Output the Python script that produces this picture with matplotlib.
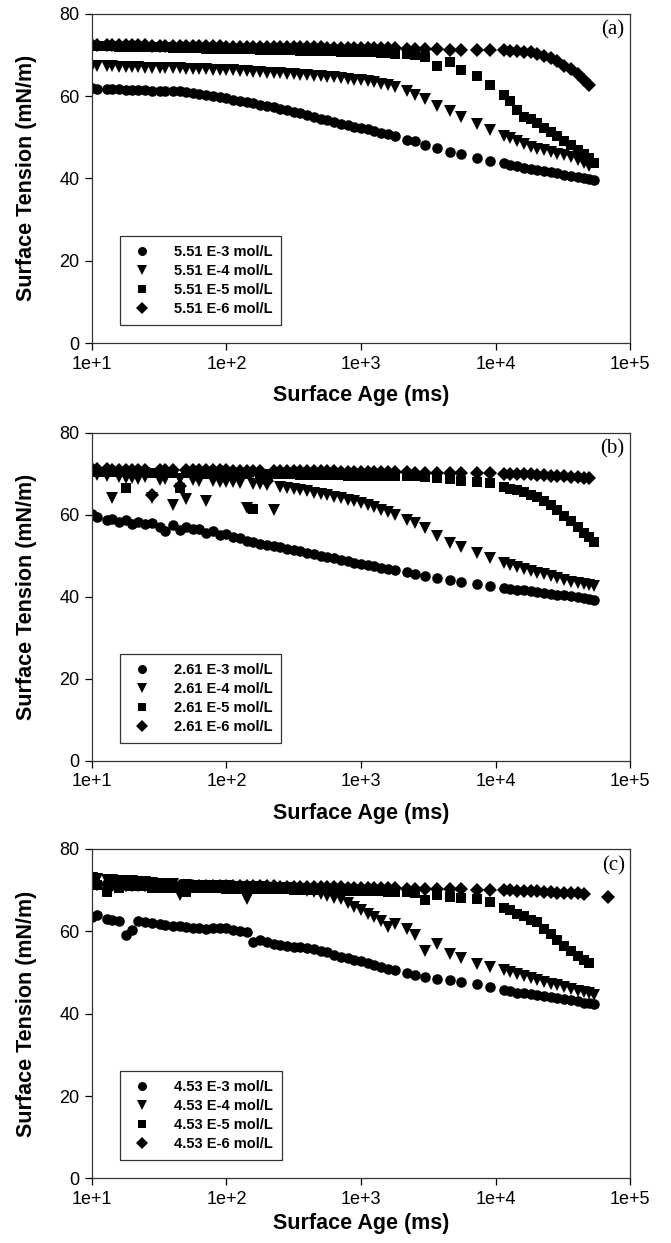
import matplotlib
matplotlib.use("Agg")
import matplotlib.pyplot as plt
import numpy as np

nan = np.nan

# Surface age (ms) shared by every run
age_ms = [
    10, 11, 13, 14, 16, 18, 20, 22, 25, 28,
    32, 35, 40, 45, 50, 56, 63, 71, 79, 89,
    100, 112, 126, 141, 158, 178, 200, 224, 251, 282,
    316, 355, 398, 447, 501, 562, 631, 708, 794, 891,
    1000, 1122, 1259, 1413, 1585, 1778, 2200, 2500, 3000, 3700,
    4600, 5500, 7300, 9100, 11500, 12900, 14500, 16200, 18200, 20400,
    22900, 25700, 28800, 32300, 36300, 40700, 45700, 49600, 53500, 69000,
]

# ----- (a) 5.51 series, surface tension in mN/m -----
a_e3 = [
    61.9, 61.8, 61.7, 61.7, 61.6, 61.5, 61.5, 61.4, 61.4, 61.3,
    61.3, 61.2, 61.2, 61.1, 61.0, 60.8, 60.5, 60.3, 60.0, 59.7,
    59.4, 59.1, 58.8, 58.5, 58.2, 57.9, 57.6, 57.3, 56.9, 56.5,
    56.1, 55.8, 55.4, 54.9, 54.5, 54.1, 53.7, 53.3, 52.9, 52.5,
    52.2, 51.9, 51.5, 51.1, 50.7, 50.3, 49.4, 49.0, 48.2, 47.3,
    46.5, 45.9, 44.9, 44.1, 43.7, 43.3, 42.9, 42.6, 42.3, 42.0,
    41.8, 41.6, 41.2, 40.9, 40.6, 40.3, 40.0, 39.8, 39.5, nan,
]
a_e4 = [
    67.3, 67.3, 67.2, 67.2, 67.1, 67.1, 67.0, 67.0, 66.9, 66.9,
    66.8, 66.8, 66.7, 66.7, 66.6, 66.6, 66.5, 66.5, 66.4, 66.4,
    66.3, 66.2, 66.1, 66.0, 65.9, 65.8, 65.7, 65.6, 65.5, 65.4,
    65.3, 65.2, 65.1, 64.9, 64.8, 64.7, 64.5, 64.3, 64.1, 64.0,
    63.8, 63.6, 63.3, 63.0, 62.7, 62.2, 61.1, 60.3, 59.2, 57.6,
    56.4, 55.0, 53.3, 51.8, 50.2, 49.7, 49.1, 48.4, 47.7, 47.2,
    46.8, 46.4, 46.0, 45.6, 45.1, 44.5, 43.7, 42.9, nan, nan,
]
a_e5 = [
    72.2, 72.2, 72.1, 72.1, 72.0, 72.0, 72.0, 71.9, 71.9, 71.8,
    71.8, 71.8, 71.7, 71.7, 71.6, 71.6, 71.6, 71.5, 71.5, 71.5,
    71.4, 71.4, 71.3, 71.3, 71.3, 71.2, 71.2, 71.2, 71.1, 71.1,
    71.1, 71.0, 71.0, 71.0, 70.9, 70.9, 70.9, 70.8, 70.8, 70.8,
    70.7, 70.7, 70.6, 70.5, 70.4, 70.3, 70.2, 70.0, 69.5, 67.2,
    68.2, 66.4, 64.9, 62.7, 60.3, 58.8, 56.5, 55.0, 54.5, 53.4,
    52.2, 51.3, 50.2, 49.0, 48.1, 47.0, 45.8, 44.9, 43.7, nan,
]
a_e6 = [
    72.5, 72.5, 72.4, 72.4, 72.4, 72.3, 72.3, 72.3, 72.3, 72.2,
    72.2, 72.2, 72.2, 72.1, 72.1, 72.1, 72.1, 72.1, 72.1, 72.1,
    72.0, 72.0, 72.0, 72.0, 71.9, 71.9, 71.9, 71.9, 71.9, 71.8,
    71.8, 71.8, 71.8, 71.8, 71.8, 71.7, 71.7, 71.7, 71.7, 71.7,
    71.7, 71.7, 71.6, 71.6, 71.6, 71.6, 71.5, 71.4, 71.4, 71.3,
    71.2, 71.2, 71.2, 71.2, 71.1, 71.0, 70.9, 70.8, 70.6, 70.3,
    69.8, 69.2, 68.4, 67.4, 66.5, 65.3, 63.9, 62.7, nan, nan,
]

# ----- (b) 2.61 series -----
b_e3 = [
    60.2, 59.4, 58.6, 59.0, 58.3, 58.7, 57.6, 58.2, 57.7, 57.9,
    57.0, 56.0, 57.4, 56.3, 57.0, 56.6, 56.4, 55.4, 55.9, 55.0,
    55.2, 54.6, 54.3, 53.6, 53.4, 52.9, 52.6, 52.3, 52.0, 51.7,
    51.4, 51.1, 50.7, 50.3, 50.0, 49.6, 49.3, 49.0, 48.6, 48.3,
    48.0, 47.7, 47.4, 47.1, 46.8, 46.5, 45.9, 45.6, 45.0, 44.5,
    44.0, 43.6, 43.2, 42.7, 42.1, 41.9, 41.7, 41.5, 41.3, 41.1,
    40.9, 40.7, 40.5, 40.3, 40.1, 39.8, 39.6, 39.4, 39.3, nan,
]
b_e4 = [
    70.2, 69.6, 69.3, 64.1, 69.2, 68.9, 69.0, 68.6, 69.1, 64.1,
    68.5, 68.8, 62.4, 68.6, 63.7, 68.4, 68.1, 63.3, 68.2, 68.0,
    68.0, 67.9, 67.8, 61.6, 67.5, 67.4, 67.2, 61.2, 66.8, 66.6,
    66.3, 66.0, 65.7, 65.3, 65.0, 64.7, 64.4, 64.1, 63.6, 63.2,
    62.9, 62.4, 61.8, 61.2, 60.7, 60.0, 58.6, 58.0, 56.7, 54.8,
    53.0, 52.2, 50.6, 49.4, 48.2, 47.8, 47.2, 46.7, 46.2, 45.8,
    45.4, 45.0, 44.6, 44.0, 43.6, 43.3, 43.0, 42.8, 42.7, nan,
]
b_e5 = [
    70.6, 70.5, 70.4, 70.4, 70.4, 66.5, 70.3, 70.3, 70.3, 70.2,
    70.2, 70.2, 70.2, 66.5, 70.1, 70.1, 70.1, 70.0, 70.0, 70.0,
    70.0, 70.0, 69.9, 69.9, 61.4, 69.9, 69.9, 69.8, 69.8, 69.8,
    69.8, 69.7, 69.7, 69.7, 69.7, 69.6, 69.6, 69.6, 69.5, 69.5,
    69.5, 69.5, 69.4, 69.4, 69.4, 69.4, 69.3, 69.3, 69.2, 69.0,
    68.6, 68.3, 68.0, 67.7, 66.8, 66.3, 66.0, 65.5, 64.9, 64.2,
    63.2, 62.4, 61.2, 59.7, 58.4, 56.9, 55.6, 54.6, 53.2, nan,
]
b_e6 = [
    71.0, 71.0, 71.0, 70.9, 70.9, 70.9, 70.9, 70.9, 70.9, 64.9,
    70.9, 70.9, 70.8, 66.9, 70.8, 70.8, 70.8, 70.8, 70.8, 70.8,
    70.8, 70.7, 70.7, 70.7, 70.7, 70.7, 68.1, 70.7, 70.7, 70.7,
    70.7, 70.6, 70.6, 70.6, 70.6, 70.6, 70.6, 70.5, 70.5, 70.5,
    70.5, 70.4, 70.4, 70.4, 70.3, 70.3, 70.3, 70.2, 70.2, 70.2,
    70.2, 70.1, 70.1, 70.1, 70.0, 70.0, 69.9, 69.9, 69.8, 69.7,
    69.6, 69.5, 69.4, 69.3, 69.2, 69.1, 69.0, 68.9, nan, nan,
]

# ----- (c) 4.53 series -----
c_e3 = [
    63.5, 64.0, 63.0, 62.8, 62.4, 59.0, 60.2, 62.6, 62.3, 62.0,
    61.8, 61.5, 61.4, 61.2, 61.0, 60.8, 60.7, 60.6, 60.8, 60.9,
    60.7, 60.4, 60.1, 59.9, 57.4, 57.8, 57.3, 56.9, 56.7, 56.5,
    56.3, 56.2, 55.9, 55.6, 55.3, 54.9, 54.3, 53.7, 53.4, 53.1,
    52.8, 52.3, 51.8, 51.3, 50.9, 50.5, 49.8, 49.3, 48.8, 48.4,
    48.1, 47.7, 47.2, 46.4, 45.7, 45.4, 45.1, 44.9, 44.8, 44.5,
    44.3, 44.1, 43.8, 43.5, 43.3, 43.0, 42.7, 42.5, 42.3, nan,
]
c_e4 = [
    73.0, 72.7, 72.5, 72.4, 72.3, 72.2, 72.1, 72.0, 72.0, 71.8,
    71.6, 71.5, 71.4, 68.7, 71.2, 71.1, 71.1, 71.0, 71.0, 70.9,
    70.9, 70.8, 70.8, 67.9, 70.7, 70.7, 70.6, 70.6, 70.5, 70.4,
    70.3, 70.2, 69.9, 69.5, 69.1, 68.6, 68.2, 67.8, 66.9, 66.0,
    65.1, 64.2, 63.4, 62.4, 61.0, 61.8, 60.6, 59.0, 55.2, 56.8,
    54.5, 53.6, 52.1, 51.3, 50.6, 50.0, 49.6, 49.2, 48.7, 48.1,
    47.7, 47.3, 46.9, 46.5, 46.0, 45.6, 45.2, 44.9, 44.6, nan,
]
c_e5 = [
    71.6, 71.3, 69.5, 71.5, 70.6, 71.2, 71.0, 70.9, 71.0, 70.5,
    70.6, 70.6, 70.5, 70.5, 69.6, 70.5, 70.4, 70.4, 70.4, 70.4,
    70.3, 70.3, 70.3, 70.3, 70.3, 70.3, 70.2, 70.2, 70.2, 70.2,
    70.1, 70.1, 70.1, 70.0, 70.0, 70.0, 70.0, 70.0, 69.9, 69.9,
    69.8, 69.8, 69.7, 69.7, 69.6, 69.6, 69.5, 69.4, 67.5, 68.7,
    68.3, 68.1, 67.9, 67.1, 65.7, 65.1, 64.2, 63.6, 62.8, 62.2,
    60.6, 59.3, 57.8, 56.4, 55.1, 54.1, 53.0, 52.3, nan, nan,
]
c_e6 = [
    71.4, 71.4, 71.4, 71.3, 71.3, 71.3, 71.3, 71.2, 71.2, 71.2,
    71.2, 71.2, 71.1, 71.1, 71.1, 71.1, 71.1, 71.0, 71.0, 71.0,
    71.0, 71.0, 71.0, 70.9, 70.9, 70.9, 70.9, 70.9, 70.8, 70.8,
    70.8, 70.8, 70.8, 70.8, 70.7, 70.7, 70.7, 70.7, 70.6, 70.6,
    70.5, 70.5, 70.5, 70.4, 70.4, 70.4, 70.3, 70.3, 70.3, 70.3,
    70.3, 70.2, 70.1, 70.1, 70.0, 70.0, 69.9, 69.9, 69.8, 69.7,
    69.6, 69.5, 69.4, 69.3, 69.3, 69.2, 69.1, nan, nan, 68.3,
]

panels = [
    ("(a)", "5.51", [a_e3, a_e4, a_e5, a_e6]),
    ("(b)", "2.61", [b_e3, b_e4, b_e5, b_e6]),
    ("(c)", "4.53", [c_e3, c_e4, c_e5, c_e6]),
]
exponents = ["E-3", "E-4", "E-5", "E-6"]
markers = ["o", "v", "s", "D"]
msizes = [7.6, 8.2, 7.0, 7.0]

# left, bottom, width, height of each panel in figure fractions
boxes = [
    [0.137, 0.724, 0.802, 0.265],
    [0.137, 0.388, 0.802, 0.264],
    [0.137, 0.052, 0.802, 0.265],
]
xlabel_pads = [9, 9, 4]

plt.rcParams['font.family'] = ['Liberation Sans', 'DejaVu Sans']

fig = plt.figure(figsize=(6.71, 12.43), dpi=100)

for (tag, conc, series), box, xpad in zip(panels, boxes, xlabel_pads):
    ax = fig.add_axes(box)
    for ys, mk, ms, ex in zip(series, markers, msizes, exponents):
        ax.plot(age_ms, ys, linestyle='none', marker=mk, markersize=ms,
                color='black', markeredgewidth=0, label=f"{conc} {ex} mol/L")

    ax.set_xscale('log')
    ax.set_xlim(10, 1e5)
    ax.set_ylim(0, 80)
    ax.set_xticks([1e1, 1e2, 1e3, 1e4, 1e5])
    ax.set_xticklabels(["1e+1", "1e+2", "1e+3", "1e+4", "1e+5"])
    ax.set_yticks([0, 20, 40, 60, 80])
    ax.minorticks_off()
    ax.tick_params(direction='out', length=5, width=0.9, labelsize=13,
                   colors='black', top=False, right=False, pad=4)
    for sp in ax.spines.values():
        sp.set_color('#333333')
        sp.set_linewidth(0.9)

    ax.set_xlabel("Surface Age (ms)", fontsize=15.5, fontweight='bold', labelpad=xpad)
    ax.set_ylabel("Surface Tension (mN/m)", fontsize=15.5, fontweight='bold', labelpad=16)

    ax.text(0.99, 0.95, tag, transform=ax.transAxes, ha='right', va='center',
            fontsize=15, family='Liberation Serif')

    leg = ax.legend(loc='lower left', bbox_to_anchor=(0.052, 0.055), borderaxespad=0,
                    frameon=True, fancybox=False, edgecolor='black',
                    prop={'weight': 'bold', 'size': 10.5}, handletextpad=1.3,
                    labelspacing=0.35, borderpad=0.6, handlelength=1.8,
                    markerscale=0.85)
    leg.get_frame().set_linewidth(0.9)

fig.savefig("out.png", dpi=100)
